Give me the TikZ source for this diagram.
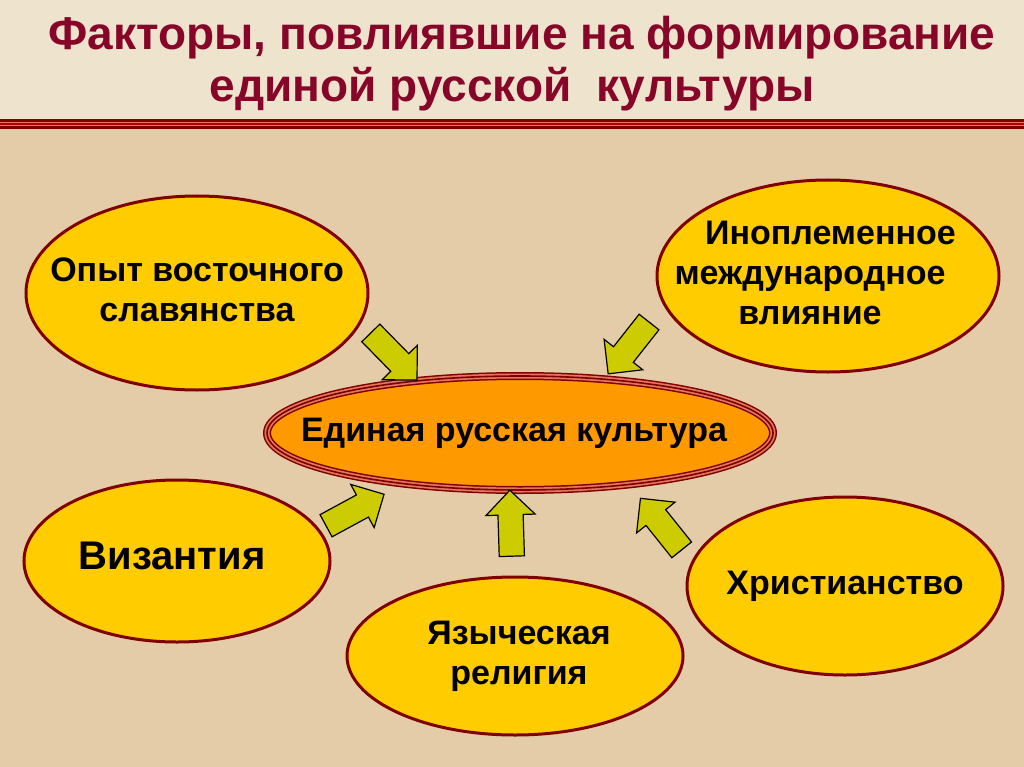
\documentclass[tikz,border=0pt]{standalone}
\usepackage{fontspec}
\setmainfont{Liberation Sans}
\usepackage{xcolor}
\usetikzlibrary{shapes.geometric,shapes.arrows,positioning}

\definecolor{topbg}{RGB}{238,227,205}
\definecolor{mainbg}{RGB}{229,204,168}
\definecolor{titlered}{RGB}{135,5,40}
\definecolor{rimred}{RGB}{128,0,0}
\definecolor{rimlight}{RGB}{225,120,90}
\definecolor{gold}{RGB}{255,204,0}
\definecolor{corefill}{RGB}{255,153,0}
\definecolor{arrowgreen}{RGB}{204,204,0}

% text that does not widen the ellipse
\newcommand{\ztext}[2][0pt]{\makebox[0pt]{\kern#1\begin{tabular}{@{}c@{}}#2\end{tabular}}}

\begin{document}
\begin{tikzpicture}[
        x=1pt, y=-1pt,
        title/.style={anchor=base, text=titlered, font=\bfseries\fontsize{46}{50}\selectfont},
        factor/.style={ellipse, draw=rimred, line width=3pt, fill=gold, inner sep=0pt,
            font=\bfseries\fontsize{34}{40}\selectfont},
        core/.style={ellipse, draw=rimred, line width=8pt, fill=corefill, inner sep=0pt,
            postaction={draw=rimlight, line width=5pt},
            postaction={draw=rimred, line width=1.6pt},
            font=\bfseries\fontsize{34}{40}\selectfont},
        flow/.style={single arrow, draw=black, line width=1.2pt, fill=arrowgreen,
            minimum height=66pt, inner xsep=0pt, inner ysep=12pt,
            single arrow head extend=12pt, sloped, allow upside down}
    ]
    \useasboundingbox (0,0) rectangle (1024,767);

    % background
    \fill[topbg] (0,0) rectangle (1024,120);
    \fill[mainbg] (0,120) rectangle (1024,767);
    \fill[rimlight] (0,119) rectangle (1024,129);
    \draw[rimred, line width=2.5pt] (0,120.5) -- (1024,120.5);
    \draw[rimred, line width=2.5pt] (0,127.5) -- (1024,127.5);
    \draw[red!70!black, line width=1.5pt] (0,124) -- (1024,124);

    % title
    \node[title] (title1) at (522,50) {Факторы, повлиявшие на формирование};
    \node[title] (title2) at (512,102) {единой русской\ \ культуры};

    % factors
    \node[factor, minimum width=342pt, minimum height=194pt] (slav) at (197,293) {\ztext{Опыт восточного\\славянства}};
    \node[factor, minimum width=342pt, minimum height=192pt] (foreign) at (828,276) {\ztext[-36pt]{\hspace*{1.2em}Иноплеменное\\международное\\влияние}};
    \node[factor, minimum width=306pt, minimum height=162pt, font=\bfseries\fontsize{40}{44}\selectfont] (byz) at (177,561) {\raisebox{9pt}{\ztext[-10pt]{Византия}}};
    \node[factor, minimum width=336pt, minimum height=158pt] (pagan) at (515,656) {\ztext[8pt]{Языческая\\религия}};
    \node[factor, minimum width=316pt, minimum height=178pt] (christ) at (845,586) {\raisebox{8pt}{\ztext{Христианство}}};

    % centre
    \node[core, minimum width=506pt, minimum height=114pt] (culture) at (520,433) {\ztext[-12pt]{Единая русская культура}};

    % arrows
    \coordinate (s1) at (366,328);  \coordinate (e1) at (413,376);
    \coordinate (s2) at (653,317);  \coordinate (e2) at (612,369);
    \coordinate (s3) at (320,529);  \coordinate (e3) at (379,497);
    \coordinate (s4) at (512,562);  \coordinate (e4) at (510,497);
    \coordinate (s5) at (685,554);  \coordinate (e5) at (645,504);

    \path (s1) -- (e1) node[flow, midway] (arr1) {};
    \path (s2) -- (e2) node[flow, midway] (arr2) {};
    \path (s3) -- (e3) node[flow, midway] (arr3) {};
    \path (s4) -- (e4) node[flow, midway] (arr4) {};
    \path (s5) -- (e5) node[flow, midway] (arr5) {};
\end{tikzpicture}
\end{document}
